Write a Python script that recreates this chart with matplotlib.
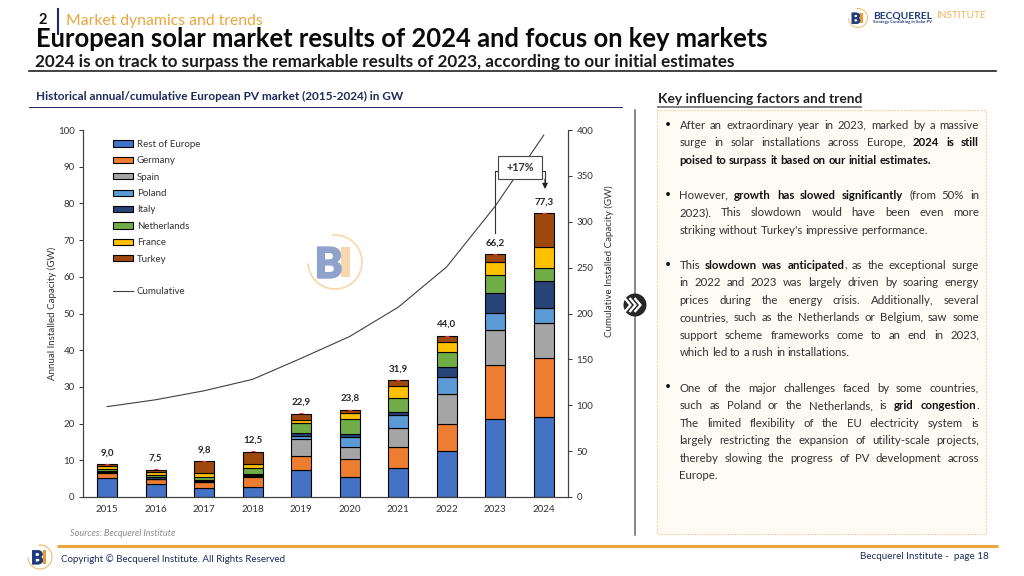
import numpy as np
import matplotlib
matplotlib.use("Agg")
from matplotlib import pyplot as plt
from matplotlib import patheffects
from matplotlib.lines import Line2D
from matplotlib.patches import Rectangle, Circle

plt.rcParams['font.family'] = ['Lato', 'DejaVu Sans']

years = ["2015", "2016", "2017", "2018", "2019", "2020", "2021", "2022", "2023", "2024"]

rest_of_europe = [5.2, 3.5, 2.4, 2.7, 7.4, 5.4, 8.0, 12.4, 21.2, 21.8]
germany = [1.4, 1.3, 1.7, 2.8, 3.9, 4.9, 5.6, 7.4, 14.9, 16.0]
spain = [0.1, 0.1, 0.1, 0.3, 4.6, 3.4, 5.1, 8.4, 9.4, 9.5]
poland = [0.1, 0.1, 0.1, 0.2, 0.7, 2.7, 3.7, 4.4, 4.7, 4.3]
italy = [0.3, 0.4, 0.4, 0.4, 0.9, 0.8, 0.8, 2.7, 5.3, 7.2]
netherlands = [0.4, 0.6, 0.8, 1.6, 2.6, 4.0, 3.8, 4.1, 4.9, 3.5]
france = [1.0, 0.7, 1.0, 1.0, 1.0, 1.6, 3.2, 2.9, 3.7, 5.8]
turkey = [0.5, 0.7, 3.2, 3.2, 1.6, 1.0, 1.7, 1.7, 2.1, 9.2]
totals = [9.0, 7.5, 9.8, 12.5, 22.9, 23.8, 31.9, 44.0, 66.2, 77.3]
cumulative = [98.5, 106, 115.8, 128.3, 151.2, 175, 206.9, 250.9, 317.1, 394.4]

series_names = ["Rest of Europe", "Germany", "Spain", "Poland", "Italy", "Netherlands", "France", "Turkey"]
series_values = [rest_of_europe, germany, spain, poland, italy, netherlands, france, turkey]
series_colors = ["#4472C4", "#ED7D31", "#A5A5A5", "#5B9BD5", "#264478", "#70AD47", "#FFC000", "#9E480E"]

# (words, bold) runs per line, True at the end = justified line
paragraphs = [
    [([("After an extraordinary year in 2023, marked by a massive", False)], True),
     ([("surge in solar installations across Europe,", False), ("2024 is still", True)], True),
     ([("poised to surpass it based on our initial estimates.", True)], False)],
    [([("However,", False), ("growth has slowed significantly", True), ("(from 50% in", False)], True),
     ([("2023). This slowdown would have been even more", False)], True),
     ([("striking without Turkey's impressive performance.", False)], False)],
    [([("This", False), ("slowdown was anticipated", True), (", as the exceptional surge", False)], True),
     ([("in 2022 and 2023 was largely driven by soaring energy", False)], True),
     ([("prices during the energy crisis. Additionally, several", False)], True),
     ([("countries, such as the Netherlands or Belgium, saw some", False)], True),
     ([("support scheme frameworks come to an end in 2023,", False)], True),
     ([("which led to a rush in installations.", False)], False)],
    [([("One of the major challenges faced by some countries,", False)], True),
     ([("such as Poland or the Netherlands, is", False), ("grid congestion", True), (".", False)], True),
     ([("The limited flexibility of the EU electricity system is", False)], True),
     ([("largely restricting the expansion of utility-scale projects,", False)], True),
     ([("thereby slowing the progress of PV development across", False)], True),
     ([("Europe.", False)], False)],
]

NAVY = "#1F2A5C"
ORANGE = "#E9A63F"
BODY = "#333333"
W, H = 1024, 576


def px_axes(left, top, right, bottom):
    return [left / W, 1 - bottom / H, (right - left) / W, (bottom - top) / H]


def draw_logo(ax, cx, cy, r, b_color, i_color, arc_color, lw, alpha=1.0):
    # arc open on the upper left, y axis of the overlay points down
    theta = np.radians(np.linspace(-95, 175, 80))
    ax.plot(cx + r * np.cos(theta), cy + r * np.sin(theta), color=arc_color, lw=lw, alpha=alpha, zorder=3)
    h = r * 1.12
    ax.add_patch(Rectangle((cx + 0.22 * r, cy - h / 2), 0.32 * r, h, fc=i_color, ec="none", alpha=alpha, zorder=3))
    t = ax.text(cx + 0.28 * r, cy + 0.01 * r, "B", color=b_color, ha="right", va="center_baseline", weight="black",
                fontsize=r * 1.12, alpha=alpha, zorder=4)
    t.set_path_effects([patheffects.withStroke(linewidth=r * 0.05, foreground=b_color)])


def justified_line(ax, runs, justify, x0, x1, y, size):
    renderer = ax.figure.canvas.get_renderer()
    words = []
    for text, bold in runs:
        parts = text.split(" ")
        for k, word in enumerate(parts):
            glue = k == 0 and text[0] in ",." and len(words) > 0
            words.append((word, bold, glue))
    items = []
    for word, bold, glue in words:
        t = ax.text(x0, y + 3.6, word, fontsize=size, color="#111111" if bold else BODY,
                    weight="bold" if bold else "normal", ha="left", va="baseline")
        items.append((t, t.get_window_extent(renderer).width, glue))
    gaps = sum(1 for it in items[1:] if not it[2])
    space = size * 100 / 72 * 0.24
    if justify and gaps > 0:
        space = (x1 - x0 - sum(it[1] for it in items)) / gaps
    x = x0
    for i, (t, width, glue) in enumerate(items):
        if i > 0 and not glue:
            x += space
        t.set_x(x)
        x += width


fig = plt.figure(figsize=(W / 100, H / 100), dpi=100, facecolor="white")

# chart
ax = fig.add_axes(px_axes(83, 130, 568, 497))
x = np.arange(len(years))
bottom = np.zeros(len(years))
handles = []
for name, vals, color in zip(series_names, series_values, series_colors):
    bars = ax.bar(x, vals, 0.41, bottom=bottom, color=color, edgecolor="black", linewidth=0.8, label=name, zorder=2)
    handles.append(bars)
    bottom += np.array(vals)
ax.scatter(x, totals, marker="_", s=8, color="#FF3030", linewidths=0.8, zorder=3)
for xi, total in zip(x, totals):
    ax.annotate(f"{total:.1f}".replace(".", ","), (xi, total), xytext=(0, 8), textcoords="offset points",
                ha="center", va="center", fontsize=7, weight="bold", color="#262626")

ax.set_xlim(-0.5, 9.5)
ax.set_ylim(0, 100)
ax.set_xticks(x, years)
ax.set_yticks(np.arange(0, 101, 10))
ax.tick_params(axis="x", length=0, labelsize=7, colors="#333333", pad=6)
ax.tick_params(axis="y", length=3, width=0.7, labelsize=7, colors="#333333", pad=3)
ax.set_ylabel("Annual Installed Capacity (GW)", fontsize=7, color="#333333")
ax.yaxis.set_label_coords(-0.054, 0.5)
ax.spines["top"].set_visible(False)
ax.patch.set_visible(False)

ax2 = ax.twinx()
line, = ax2.plot(x, cumulative, color="#404040", lw=0.8, label="Cumulative", zorder=4)
ax2.set_ylim(0, 400)
ax2.set_yticks(np.arange(0, 401, 50))
ax2.tick_params(axis="y", length=3, width=0.7, labelsize=7, colors="#333333", pad=3)
ax2.set_ylabel("Cumulative Installed Capacity (GW)", fontsize=7, color="#333333")
ax2.yaxis.set_label_coords(1.076, 0.643)
ax2.spines["top"].set_visible(False)
for a in (ax, ax2):
    for s in ("left", "right", "bottom"):
        a.spines[s].set_color("#404040")
        a.spines[s].set_linewidth(0.8)

blank = Line2D([], [], color="none", label=" ")
ax.legend(handles=handles + [blank, line], loc="upper left", bbox_to_anchor=(0.062, 0.973), frameon=False,
          fontsize=7, labelspacing=0.76, handlelength=2.1, handleheight=0.6, handletextpad=0.35,
          borderaxespad=0, borderpad=0, labelcolor="#333333")

# page furniture in pixel coordinates
ov = fig.add_axes([0, 0, 1, 1], zorder=5)
ov.set_xlim(0, W)
ov.set_ylim(H, 0)
ov.axis("off")

ov.text(43, 20.5, "2", fontsize=10.5, weight="bold", color="#111111", ha="center", va="center")
ov.plot([58, 58], [9, 34], color=NAVY, lw=1.5)
ov.text(66, 20.5, "Market dynamics and trends", fontsize=11.35, color=ORANGE, ha="left", va="center")
ov.text(35.5, 39, "European solar market results of 2024 and focus on key markets", fontsize=18.48, weight="bold",
        color="#0A0A0A", ha="left", va="center")
ov.text(35, 62, "2024 is on track to surpass the remarkable results of 2023, according to our initial estimates",
        fontsize=12.36, weight="bold", color="#1A1A1A", ha="left", va="center")
ov.plot([29, 996], [71, 71], color="#222222", lw=1.2)

ov.text(35.5, 96, "Historical annual/cumulative European PV market (2015-2024) in GW", fontsize=8.45, weight="bold",
        color=NAVY, ha="left", va="center")
ov.plot([29, 622], [107, 107], color=NAVY, lw=0.7)

ov.text(658, 99, "Key influencing factors and trend", fontsize=9.9, weight="bold", color="#222222", ha="left",
        va="center")
ov.plot([658, 861], [106.5, 106.5], color="#777777", lw=1.3)

ov.add_patch(Rectangle((656.5, 110), 329, 424, fc="#FEFAF4", ec="#F6C896", lw=0.8, ls=(0, (1.5, 1.5)), zorder=1))
ov.plot([634.5, 634.5], [110, 535], color="#666666", lw=1.1, zorder=1)
ov.add_patch(Circle((635, 305), 11.5, fc="#262626", ec="none", zorder=2))
for dx in (-6, -1, 4):
    ov.plot([628 + dx + 2.5, 634 + dx + 2.5, 628 + dx + 2.5], [298, 305, 312], color="white", lw=1.7, zorder=3,
            solid_capstyle="butt")

para_tops = [125, 195, 265, 388]
line_step = 17.5
for top, para in zip(para_tops, paragraphs):
    ov.text(668, top - 1, "•", fontsize=7.5, color="#111111", ha="center", va="center", zorder=3)
    for i, (runs, justify) in enumerate(para):
        justified_line(ov, runs, justify, 679.5, 979, top + i * line_step, 8.2)

# +17% callout
ov.plot([494.5, 494.5, 498], [233, 171, 171], color="#333333", lw=0.8)
ov.plot([542, 545, 545], [171, 171, 182], color="#333333", lw=0.8)
ov.annotate("", xy=(545, 189), xytext=(545, 179), arrowprops=dict(arrowstyle="-|>", color="#222222", lw=0.8,
                                                                  shrinkA=0, shrinkB=0, mutation_scale=8))
ov.add_patch(Rectangle((498, 156), 44, 23, fc="white", ec="#444444", lw=0.8, zorder=3))
ov.text(520, 167.5, "+17%", fontsize=7.8, weight="bold", color="#333333", ha="center", va="center", zorder=4)

# watermark and logos
draw_logo(ov, 335, 262, 27, "#8FA2CB", "#F8D6AE", "#F8D9AE", 1.3)
draw_logo(ov, 858, 18, 9.5, "#1F3A7A", "#EE9B2D", "#F3B866", 0.7)
ov.text(873, 16, "BECQUEREL", fontsize=7.4, weight="bold", color="#1F3A7A", ha="left", va="center")
ov.text(936, 16, "INSTITUTE", fontsize=7.3, color="#F0B45C", ha="left", va="center")
ov.text(873, 22, "Strategy Consulting in Solar PV", fontsize=3.1, weight="bold", color="#1F3A7A", ha="left",
        va="center")
draw_logo(ov, 40, 557, 12, "#1F3A7A", "#EE9B2D", "#F3B866", 0.8)

ov.text(70, 533, "Sources: Becquerel Institute", fontsize=6.6, style="italic", color="#8C8C8C", ha="left", va="center")
ov.plot([57, 998], [546, 546], color=ORANGE, lw=2.2, solid_capstyle="butt")
ov.text(61, 559, "Copyright © Becquerel Institute. All Rights Reserved", fontsize=7.05, color=NAVY, ha="left", va="center")
ov.text(989, 556.5, "Becquerel Institute -  page 18", fontsize=7.15, color=NAVY, ha="right", va="center")

fig.savefig("out.png", dpi=100)
